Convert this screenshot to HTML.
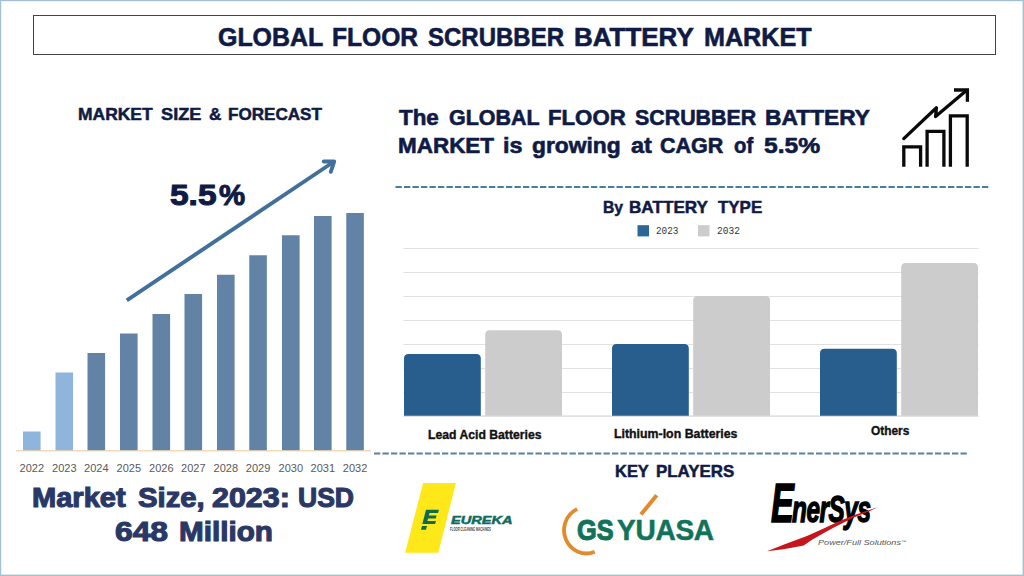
<!DOCTYPE html>
<html><head><meta charset="utf-8"><title>Global Floor Scrubber Battery Market</title>
<style>
html,body{margin:0;padding:0;background:#fff;}
body{width:1024px;height:576px;position:relative;overflow:hidden;font-family:"Liberation Sans",sans-serif;}
#frame{position:absolute;left:0;top:0;width:1024px;height:576px;box-sizing:border-box;border:1px solid #a3bfd2;box-shadow:inset -1px -1px 0 #dbe7ef, inset 1px 1px 0 #eef4f8;}
.t{position:absolute;white-space:pre;line-height:1;transform-origin:0 0;font-family:"Liberation Sans",sans-serif;}
.m{font-family:"Liberation Mono",monospace;}
#titlebox{position:absolute;left:33px;top:15px;width:963px;height:40px;box-sizing:border-box;border:1px solid #444;}
.yr{position:absolute;top:463.4px;width:40px;text-align:center;font-size:11px;line-height:1;color:#595959;}
svg{position:absolute;left:0;top:0;}
</style></head><body>
<div id="frame"></div>
<div id="titlebox"></div>
<svg width="1024" height="576" viewBox="0 0 1024 576">
<rect x="23" y="431.5" width="17.6" height="19.0" fill="#8fb5dc"/>
<rect x="55.5" y="372.5" width="17.6" height="78.0" fill="#8fb5dc"/>
<rect x="87.5" y="353" width="17.6" height="97.5" fill="#6283a6"/>
<rect x="120" y="333.5" width="17.6" height="117.0" fill="#6283a6"/>
<rect x="152.5" y="314" width="17.6" height="136.5" fill="#6283a6"/>
<rect x="184.5" y="294" width="17.6" height="156.5" fill="#6283a6"/>
<rect x="217" y="274.75" width="17.6" height="175.75" fill="#6283a6"/>
<rect x="249.25" y="255.25" width="17.6" height="195.25" fill="#6283a6"/>
<rect x="282" y="235.25" width="17.6" height="215.25" fill="#6283a6"/>
<rect x="314" y="216" width="17.6" height="234.5" fill="#6283a6"/>
<rect x="346.25" y="213" width="17.6" height="237.5" fill="#6283a6"/>
<rect x="16" y="450.3" width="355" height="1" fill="#e3c9a8"/>
<g stroke="#41709b" stroke-width="3.9" fill="none" stroke-linecap="round" stroke-linejoin="miter"><path d="M126.8 300.4 L333.4 162" stroke-linecap="butt"/><path d="M323.8 161.5 L334.2 161.4 L330.8 171.8" stroke-linejoin="round"/></g>
<rect x="403.5" y="248" width="575" height="1" fill="#e1e1e1"/>
<rect x="403.5" y="272" width="575" height="1" fill="#e1e1e1"/>
<rect x="403.5" y="296" width="575" height="1" fill="#e1e1e1"/>
<rect x="403.5" y="320" width="575" height="1" fill="#e1e1e1"/>
<rect x="403.5" y="344" width="575" height="1" fill="#e1e1e1"/>
<rect x="403.5" y="368" width="575" height="1" fill="#e1e1e1"/>
<rect x="403.5" y="392" width="575" height="1" fill="#e1e1e1"/>
<rect x="403.5" y="415.5" width="575" height="1.2" fill="#d4d4d4"/>
<path d="M404 415.8 V358.5 Q404 354 408.5 354 H476.3 Q480.8 354 480.8 358.5 V415.8 Z" fill="#285e8e"/>
<path d="M485.2 415.8 V334.8 Q485.2 330.3 489.7 330.3 H557.5 Q562.0 330.3 562.0 334.8 V415.8 Z" fill="#cccccc"/>
<path d="M612 415.8 V348.6 Q612 344.1 616.5 344.1 H684.3 Q688.8 344.1 688.8 348.6 V415.8 Z" fill="#285e8e"/>
<path d="M693.2 415.8 V300.6 Q693.2 296.1 697.7 296.1 H765.5 Q770.0 296.1 770.0 300.6 V415.8 Z" fill="#cccccc"/>
<path d="M820 415.8 V353.3 Q820 348.8 824.5 348.8 H892.3 Q896.8 348.8 896.8 353.3 V415.8 Z" fill="#285e8e"/>
<path d="M901.2 415.8 V267.4 Q901.2 262.9 905.7 262.9 H973.5 Q978.0 262.9 978.0 267.4 V415.8 Z" fill="#cccccc"/>
<rect x="637.5" y="225.2" width="11.5" height="11.2" fill="#2d6795"/>
<rect x="698" y="225.2" width="11.5" height="11.2" fill="#cccccc"/>
<path d="M395.5 187 H988.5" stroke="#4a7d9d" stroke-width="2.2" stroke-dasharray="6.3 2.2"/>
<path d="M374 453.4 H967" stroke="#5681a0" stroke-width="2" stroke-dasharray="6.3 2.2"/>
<g stroke="#0a0a0a" stroke-width="3.3" fill="none" stroke-linejoin="miter"><path d="M903.8 166.8 V146.9 H920.6 V166.8"/><path d="M927.1 166.8 V131.3 H943.9 V166.8"/><path d="M950.4 166.8 V115.8 H967.2 V166.8"/><path d="M903.8 138.6 L936.4 107.8 L935.6 116.6 L966.4 90.4" stroke-linecap="round" stroke-linejoin="round"/><path d="M954 90 H967.4 V101.8"/></g>
<polygon points="423.1,483 455.9,483 438.3,552.8 405.1,552.8" fill="#ffe81a"/>
<g fill="#0f6b4c"><polygon points="426,509.8 439,509.8 438,513 429.6,513 428.9,515.4 436.6,515.4 435.8,518.4 428.1,518.4 427.4,520.9 436,520.9 435.1,524.1 422.3,524.1"/><polygon points="422,526 427,526 426,529.8 421,529.8"/></g>
<path d="M577.2 509.1 A22.4 23.2 0 0 0 594.7 551.8" stroke="#e18b2f" stroke-width="3.8" fill="none"/>
<path d="M640.9 514.6 L656.7 495.3" stroke="#e18b2f" stroke-width="4" fill="none"/>
</svg>
<div class="t" style="left:217.77px;top:25.10px;font-size:25.4px;font-weight:700;color:#0f1b44;transform:scaleX(0.9817);-webkit-text-stroke:0.6px #0f1b44">GLOBAL</div>
<div class="t" style="left:331.53px;top:25.10px;font-size:25.4px;font-weight:700;color:#0f1b44;transform:scaleX(0.9684);-webkit-text-stroke:0.6px #0f1b44">FLOOR</div>
<div class="t" style="left:428.0px;top:25.10px;font-size:25.4px;font-weight:700;color:#0f1b44;transform:scaleX(0.9456);-webkit-text-stroke:0.6px #0f1b44">SCRUBBER</div>
<div class="t" style="left:573.98px;top:25.10px;font-size:25.4px;font-weight:700;color:#0f1b44;transform:scaleX(1.0225);-webkit-text-stroke:0.6px #0f1b44">BATTERY</div>
<div class="t" style="left:703.51px;top:25.10px;font-size:25.4px;font-weight:700;color:#0f1b44;transform:scaleX(0.9899);-webkit-text-stroke:0.6px #0f1b44">MARKET</div>
<div class="t" style="left:77.94px;top:106.43px;font-size:16.5px;font-weight:700;color:#0f1b44;transform:scaleX(1.0576);-webkit-text-stroke:0.5px #0f1b44">MARKET</div>
<div class="t" style="left:161.2px;top:106.43px;font-size:16.5px;font-weight:700;color:#0f1b44;transform:scaleX(1.1018);-webkit-text-stroke:0.5px #0f1b44">SIZE</div>
<div class="t" style="left:209.0px;top:106.43px;font-size:16.5px;font-weight:700;color:#0f1b44;transform:scaleX(1.0417);-webkit-text-stroke:0.5px #0f1b44">&amp;</div>
<div class="t" style="left:227.97px;top:106.43px;font-size:16.5px;font-weight:700;color:#0f1b44;transform:scaleX(1.0349);-webkit-text-stroke:0.5px #0f1b44">FORECAST</div>
<div class="t" style="left:169.6px;top:181.45px;font-size:29px;font-weight:700;color:#0f1b44;transform:scaleX(1.1546);-webkit-text-stroke:1.0px #0f1b44">5.5</div>
<div class="t" style="left:219.3px;top:181.45px;font-size:29px;font-weight:700;color:#0f1b44;transform:scaleX(1.0115);-webkit-text-stroke:1.0px #0f1b44">%</div>
<div class="t" style="left:399.0px;top:107.97px;font-size:21.3px;font-weight:700;color:#0f1b44;transform:scaleX(1.0521);-webkit-text-stroke:0.6px #0f1b44">The</div>
<div class="t" style="left:449.0px;top:107.97px;font-size:21.3px;font-weight:700;color:#0f1b44;transform:scaleX(1.0067);-webkit-text-stroke:0.6px #0f1b44">GLOBAL</div>
<div class="t" style="left:548.46px;top:107.97px;font-size:21.3px;font-weight:700;color:#0f1b44;transform:scaleX(1.0424);-webkit-text-stroke:0.6px #0f1b44">FLOOR</div>
<div class="t" style="left:635.25px;top:107.97px;font-size:21.3px;font-weight:700;color:#0f1b44;transform:scaleX(1.0037);-webkit-text-stroke:0.6px #0f1b44">SCRUBBER</div>
<div class="t" style="left:765.43px;top:107.97px;font-size:21.3px;font-weight:700;color:#0f1b44;transform:scaleX(1.0697);-webkit-text-stroke:0.6px #0f1b44">BATTERY</div>
<div class="t" style="left:397.95px;top:135.97px;font-size:21.3px;font-weight:700;color:#0f1b44;transform:scaleX(1.0546);-webkit-text-stroke:0.6px #0f1b44">MARKET</div>
<div class="t" style="left:503.4px;top:135.97px;font-size:21.3px;font-weight:700;color:#0f1b44;transform:scaleX(1.0995);-webkit-text-stroke:0.6px #0f1b44">is</div>
<div class="t" style="left:531.5px;top:135.97px;font-size:21.3px;font-weight:700;color:#0f1b44;transform:scaleX(1.0697);-webkit-text-stroke:0.6px #0f1b44">growing</div>
<div class="t" style="left:630.5px;top:135.97px;font-size:21.3px;font-weight:700;color:#0f1b44;transform:scaleX(1.1011);-webkit-text-stroke:0.6px #0f1b44">at</div>
<div class="t" style="left:660.0px;top:135.97px;font-size:21.3px;font-weight:700;color:#0f1b44;transform:scaleX(1.0108);-webkit-text-stroke:0.6px #0f1b44">CAGR</div>
<div class="t" style="left:733.75px;top:135.97px;font-size:21.3px;font-weight:700;color:#0f1b44;transform:scaleX(0.952);-webkit-text-stroke:0.6px #0f1b44">of</div>
<div class="t" style="left:763.75px;top:135.97px;font-size:21.3px;font-weight:700;color:#0f1b44;transform:scaleX(1.1573);-webkit-text-stroke:0.6px #0f1b44">5.5%</div>
<div class="t" style="left:602.54px;top:199.12px;font-size:16.4px;font-weight:700;color:#0f1b44;transform:scaleX(0.9598);-webkit-text-stroke:0.5px #0f1b44">By</div>
<div class="t" style="left:629.45px;top:199.12px;font-size:16.4px;font-weight:700;color:#0f1b44;transform:scaleX(1.045);-webkit-text-stroke:0.5px #0f1b44">BATTERY</div>
<div class="t" style="left:718.0px;top:199.12px;font-size:16.4px;font-weight:700;color:#0f1b44;transform:scaleX(1.032);-webkit-text-stroke:0.5px #0f1b44">TYPE</div>
<div class="t" style="left:428.0px;top:429.34px;font-size:12px;font-weight:700;color:#111;transform:scaleX(1.0168);-webkit-text-stroke:0.35px #111">Lead Acid Batteries</div>
<div class="t" style="left:613.7px;top:428.34px;font-size:12px;font-weight:700;color:#111;transform:scaleX(1.0288);-webkit-text-stroke:0.35px #111">Lithium-Ion Batteries</div>
<div class="t" style="left:870.7px;top:425.24px;font-size:12px;font-weight:700;color:#111;transform:scaleX(0.9922);-webkit-text-stroke:0.35px #111">Others</div>
<div class="t" style="left:615.1px;top:462.72px;font-size:16.4px;font-weight:700;color:#0f1b44;transform:scaleX(1.004);-webkit-text-stroke:0.5px #0f1b44">KEY</div>
<div class="t" style="left:656.47px;top:462.72px;font-size:16.4px;font-weight:700;color:#0f1b44;transform:scaleX(1.0296);-webkit-text-stroke:0.5px #0f1b44">PLAYERS</div>
<div class="t" style="left:32.43px;top:484.48px;font-size:27.2px;font-weight:700;color:#2a3866;transform:scaleX(1.0683);-webkit-text-stroke:1.1px #2a3866">Market</div>
<div class="t" style="left:137.75px;top:484.48px;font-size:27.2px;font-weight:700;color:#2a3866;transform:scaleX(1.0761);-webkit-text-stroke:1.1px #2a3866">Size,</div>
<div class="t" style="left:212.0px;top:484.48px;font-size:27.2px;font-weight:700;color:#2a3866;transform:scaleX(1.1188);-webkit-text-stroke:1.1px #2a3866">2023:</div>
<div class="t" style="left:298.32px;top:484.48px;font-size:27.2px;font-weight:700;color:#2a3866;transform:scaleX(0.9755);-webkit-text-stroke:1.1px #2a3866">USD</div>
<div class="t" style="left:114.83px;top:517.58px;font-size:27.2px;font-weight:700;color:#2a3866;transform:scaleX(1.1697);-webkit-text-stroke:1.1px #2a3866">648</div>
<div class="t" style="left:179.16px;top:517.58px;font-size:27.2px;font-weight:700;color:#2a3866;transform:scaleX(1.0908);-webkit-text-stroke:1.1px #2a3866">Million</div>
<div class="t m" style="left:656.0px;top:226.05px;font-size:10.5px;font-weight:400;color:#333;transform:scaleX(0.8915);">2023</div>
<div class="t m" style="left:716.5px;top:226.05px;font-size:10.5px;font-weight:400;color:#333;transform:scaleX(0.9115);">2032</div>
<div class="yr" style="left:11.8px">2022</div>
<div class="yr" style="left:44.3px">2023</div>
<div class="yr" style="left:76.3px">2024</div>
<div class="yr" style="left:108.8px">2025</div>
<div class="yr" style="left:141.3px">2026</div>
<div class="yr" style="left:173.3px">2027</div>
<div class="yr" style="left:205.8px">2028</div>
<div class="yr" style="left:238.1px">2029</div>
<div class="yr" style="left:270.8px">2030</div>
<div class="yr" style="left:302.8px">2031</div>
<div class="yr" style="left:335.1px">2032</div>
<div class="t" style="left:450.8px;top:514.9px;font-size:11.8px;font-weight:700;font-style:italic;color:#0e6b5e;transform:scaleX(1.235);-webkit-text-stroke:0.5px #0e6b5e">EUREKA</div>
<div class="t" style="left:450px;top:526.5px;font-size:5px;font-weight:700;color:#444;transform:scaleX(0.56)">FLOOR CLEANING MACHINES</div>
<div class="t" style="left:576.6px;top:515.4px;font-size:29.4px;font-weight:700;color:#11735a;transform:scaleX(0.86);-webkit-text-stroke:1.1px #11735a">GS</div>
<div class="t" style="left:616.5px;top:515.4px;font-size:29.4px;font-weight:700;color:#11735a;transform:scaleX(0.955);letter-spacing:-0.3px;-webkit-text-stroke:0.5px #11735a">YUASA</div>
<div class="t" style="left:771px;top:476.4px;font-size:55px;font-weight:700;font-style:italic;color:#000;transform:scaleX(0.62);-webkit-text-stroke:1.6px #000">E</div>
<div class="t" style="left:792.2px;top:491.5px;font-size:36.5px;font-weight:700;font-style:italic;color:#000;transform:scaleX(0.665);letter-spacing:-0.6px;-webkit-text-stroke:1.4px #000">nerSys</div>
<div class="t" style="left:817.8px;top:539.4px;font-size:7px;font-weight:400;font-style:italic;color:#555;transform:scaleX(1.3)">Power/Full Solutions<span style="font-size:4px;vertical-align:2px">™</span></div>
<svg width="1024" height="576" viewBox="0 0 1024 576"><path d="M767 551.3 L783.4 544.7 L806.9 536.1 L822.5 529 L838.1 521.7 L853.7 515.3 L869.4 510 L878 506.9 L869.4 511.3 L853.7 517.6 L844.4 522.2 L833.4 527.7 L822.5 533.8 L811.6 540.1 L803.7 545.5 L783.4 549.2 Z" fill="#c4161c"/></svg>
</body></html>
